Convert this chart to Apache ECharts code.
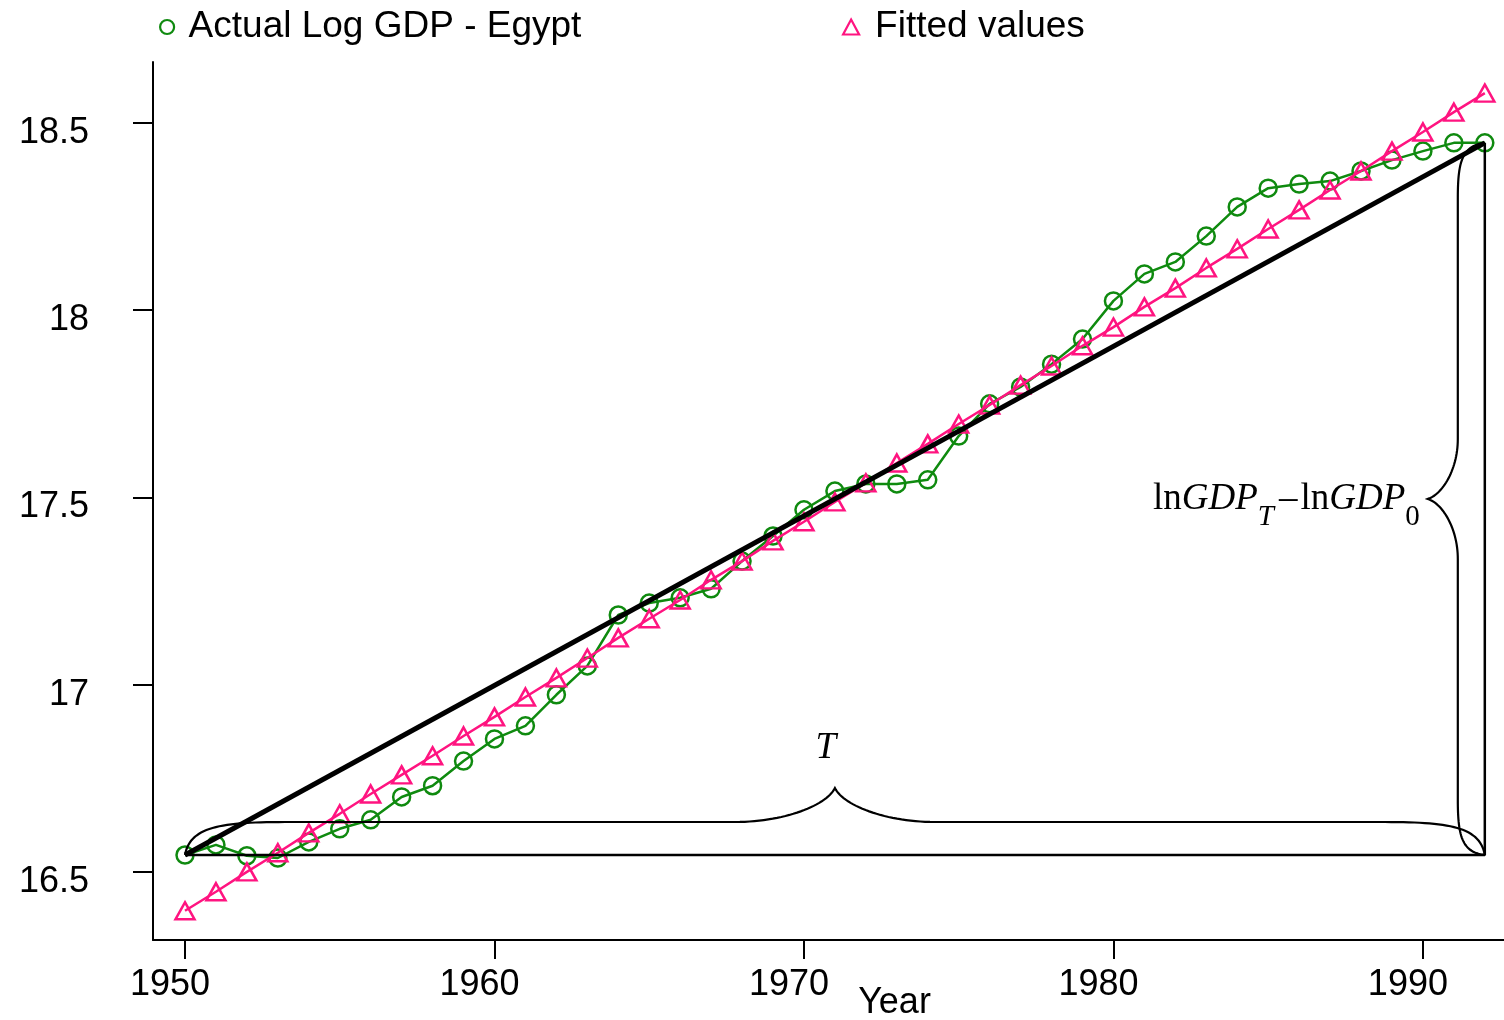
<!DOCTYPE html>
<html><head><meta charset="utf-8">
<script src="https://cdn.jsdelivr.net/npm/echarts@6/dist/echarts.min.js"></script>
<style>html,body{margin:0;padding:0;background:#fff}#main{width:1504px;height:1020px}</style>
</head><body><div id="main"></div>
<script>
const years = [1950,1951,1952,1953,1954,1955,1956,1957,1958,1959,1960,1961,1962,1963,1964,1965,1966,1967,1968,1969,1970,1971,1972,1973,1974,1975,1976,1977,1978,1979,1980,1981,1982,1983,1984,1985,1986,1987,1988,1989,1990,1991,1992];
const actualLogGDP = [16.545,16.572,16.543,16.537,16.580,16.615,16.639,16.700,16.730,16.796,16.855,16.890,16.973,17.050,17.186,17.218,17.232,17.256,17.330,17.397,17.467,17.517,17.536,17.536,17.547,17.664,17.750,17.795,17.856,17.923,18.025,18.097,18.129,18.198,18.276,18.326,18.337,18.345,18.372,18.401,18.425,18.447,18.447];
const fittedValues = [16.396,16.447,16.500,16.551,16.604,16.655,16.708,16.759,16.810,16.863,16.914,16.967,17.018,17.071,17.125,17.176,17.226,17.280,17.330,17.384,17.435,17.488,17.539,17.592,17.643,17.696,17.747,17.800,17.851,17.905,17.955,18.009,18.059,18.113,18.164,18.217,18.268,18.321,18.372,18.425,18.476,18.529,18.580];
const xTickValues = [1950,1960,1970,1980,1990];
const yTickValues = [16.5,17,17.5,18,18.5];
const seriesNames = ['Actual Log GDP - Egypt','Fitted values'];
const xLabel = 'Year';
const braceLabelT = 'T';

const GREEN = '#0f8a0f';
const PINK = '#ff1480';
const SANS = 'Liberation Sans';
const SERIF = 'Liberation Serif';

const n = years.length - 1;
const actualData = years.map((y, i) => [y, actualLogGDP[i]]);
const fittedData = years.map((y, i) => [y, fittedValues[i]]);
const chordData = [[years[0], actualLogGDP[0]], [years[n], actualLogGDP[n]]];
const legsData = [[years[0], actualLogGDP[0]], [years[n], actualLogGDP[0]], [years[n], actualLogGDP[n]]];
const braceData = [
  [years[0], actualLogGDP[0], years[n], actualLogGDP[0], 0],
  [years[n], actualLogGDP[n], years[n], actualLogGDP[0], 1]
];

function bracePath(p0, p1, nv, d1, d2, c1, c2) {
  const dx = p1[0] - p0[0], dy = p1[1] - p0[1];
  const L = Math.hypot(dx, dy);
  const t = [dx / L, dy / L];
  const P = (a, b) => [p0[0] + t[0] * a + nv[0] * b, p0[1] + t[1] * a + nv[1] * b];
  const pts = [P(0, 0)];
  const cubic = (A, B, C, D) => {
    for (let k = 1; k <= 30; k++) {
      const s = k / 30, u = 1 - s;
      pts.push([
        u*u*u*A[0] + 3*u*u*s*B[0] + 3*u*s*s*C[0] + s*s*s*D[0],
        u*u*u*A[1] + 3*u*u*s*B[1] + 3*u*s*s*C[1] + s*s*s*D[1]
      ]);
    }
  };
  const h = L / 2;
  cubic(P(0, 0), P(0.05 * c1, 0.85 * d1), P(0.35 * c1, d1), P(c1, d1));
  pts.push(P(h - c2, d1));
  cubic(P(h - c2, d1), P(h - 0.5 * c2, d1), P(h - 0.08 * c2, d1 + 0.5 * d2), P(h, d1 + d2));
  cubic(P(h, d1 + d2), P(h + 0.08 * c2, d1 + 0.5 * d2), P(h + 0.5 * c2, d1), P(h + c2, d1));
  pts.push(P(L - c1, d1));
  cubic(P(L - c1, d1), P(L - 0.35 * c1, d1), P(L - 0.05 * c1, 0.85 * d1), P(L, 0));
  return { pts, tip: P(h, d1 + d2) };
}

function renderBrace(params, api) {
  const a = api.coord([api.value(0), api.value(1)]);
  const b = api.coord([api.value(2), api.value(3)]);
  const kind = api.value(4);
  if (kind === 0) {
    const br = bracePath(a, b, [0, -1], 33, 34, 100, 100);
    return { type: 'group', children: [
      { type: 'polyline', shape: { points: br.pts }, style: { stroke: '#000', lineWidth: 2.2, fill: 'none' } },
      { type: 'text', style: { text: braceLabelT, x: br.tip[0] - 9, y: br.tip[1] - 40,
          font: 'italic 37px "' + SERIF + '"', fill: '#000', align: 'center', verticalAlign: 'middle',
          textAlign: 'center', textVerticalAlign: 'middle' } }
    ]};
  } else {
    const br = bracePath(a, b, [-1, 0], 27, 30, 55, 60);
    const main = { fontFamily: SERIF, fontSize: 37, fill: '#000', lineHeight: 40, verticalAlign: 'top' };
    return { type: 'group', children: [
      { type: 'polyline', shape: { points: br.pts }, style: { stroke: '#000', lineWidth: 2.2, fill: 'none' } },
      { type: 'text', style: {
          text: '{r|ln}{i|GDP}{st|T}{r|\u2013}{r2|ln}{i|GDP}{s0|0}',
          x: br.tip[0] - 8, y: br.tip[1] + 2,
          align: 'right', verticalAlign: 'middle', textAlign: 'right', textVerticalAlign: 'middle',
          fill: '#000',
          rich: {
            r: Object.assign({}, main),
            r2: Object.assign({}, main, { padding: [0, 0, 0, 3] }),
            i: Object.assign({}, main, { fontStyle: 'italic' }),
            st: { fontFamily: SERIF, fontSize: 29, fontStyle: 'italic', fill: '#000', lineHeight: 29, padding: [22, 5, 0, 0], verticalAlign: 'top' },
            s0: { fontFamily: SERIF, fontSize: 29, fill: '#000', lineHeight: 29, padding: [22, 0, 0, 0], verticalAlign: 'top' }
          }
      } }
    ]};
  }
}

const chart = echarts.init(document.getElementById('main'), null, { renderer: 'canvas' });
const legendText = { fontSize: 37, fontFamily: SANS, color: '#000', lineHeight: 38 };
chart.setOption({
  animation: false,
  backgroundColor: '#fff',
  grid: { left: 153, right: 0, top: 62, bottom: 80, containLabel: false, outerBoundsMode: 'none' },
  legend: [
    { data: [{ name: seriesNames[0], icon: 'circle', itemStyle: { color: 'transparent', borderColor: GREEN, borderWidth: 2.2 } }],
      left: 154, top: 0, itemWidth: 15, itemHeight: 14, selectedMode: false,
      textStyle: Object.assign({}, legendText, { padding: [6, 0, 0, 9] }) },
    { data: [{ name: seriesNames[1], icon: 'triangle', itemStyle: { color: 'transparent', borderColor: PINK, borderWidth: 2.2 } }],
      left: 837, top: 0, itemWidth: 16, itemHeight: 15, selectedMode: false,
      textStyle: Object.assign({}, legendText, { padding: [6, 0, 0, 11] }) }
  ],
  xAxis: {
    type: 'value', min: 1948.966, max: 1992.62,
    axisLine: { lineStyle: { color: '#000', width: 2 } },
    axisTick: { show: true, length: 19, lineStyle: { color: '#000', width: 2 }, customValues: xTickValues },
    axisLabel: { customValues: xTickValues, margin: 27, formatter: v => '{a|' + v + '}',
      rich: { a: { fontSize: 36, fontFamily: SANS, color: '#000', padding: [0, 30, 0, 0] } } },
    splitLine: { show: false },
    name: xLabel, nameLocation: 'middle', nameGap: 45, nameMoveOverlap: false,
    nameTextStyle: { fontSize: 36, fontFamily: SANS, color: '#000', padding: [0, 0, 0, 132] }
  },
  yAxis: {
    type: 'value', min: 16.318, max: 18.663,
    axisLine: { show: true, lineStyle: { color: '#000', width: 2 } },
    axisTick: { show: true, length: 20, lineStyle: { color: '#000', width: 2 }, customValues: yTickValues },
    axisLabel: { customValues: yTickValues, margin: 64, formatter: v => '{a|' + v + '}',
      rich: { a: { fontSize: 36, fontFamily: SANS, color: '#000', padding: [20, 0, 0, 0] } } },
    splitLine: { show: false }
  },
  series: [
    { name: seriesNames[0], type: 'line', data: actualData, symbol: 'circle', symbolSize: 17,
      itemStyle: { color: 'transparent', borderColor: GREEN, borderWidth: 2.5 },
      lineStyle: { color: GREEN, width: 2.5 }, z: 2, emphasis: { disabled: true } },
    { name: seriesNames[1], type: 'line', data: fittedData, symbol: 'triangle', symbolSize: [19, 17],
      itemStyle: { color: 'transparent', borderColor: PINK, borderWidth: 2.5 },
      lineStyle: { color: PINK, width: 2.5 }, z: 3, emphasis: { disabled: true } },
    { name: 'chord', type: 'line', data: chordData, symbol: 'none', lineStyle: { color: '#000', width: 5 }, z: 5, emphasis: { disabled: true } },
    { name: 'legs', type: 'line', data: legsData, symbol: 'none', lineStyle: { color: '#000', width: 2.5 }, z: 5, emphasis: { disabled: true } },
    { name: 'braces', type: 'custom', data: braceData, renderItem: renderBrace, z: 6, silent: true,
      encode: { x: [0, 2], y: [1, 3] } }
  ]
});
</script></body></html>
